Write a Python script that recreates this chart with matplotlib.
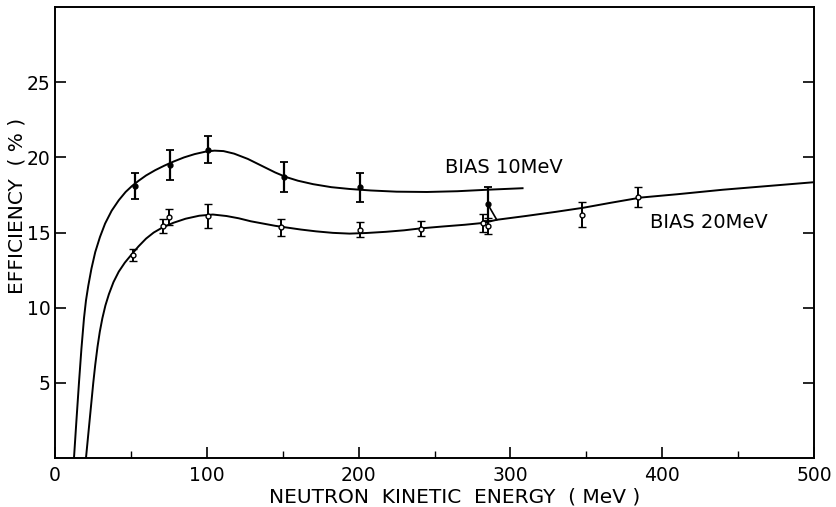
import matplotlib
matplotlib.use("Agg")
import matplotlib.pyplot as plt

# measured points, bias 10 MeV (filled dots)
energy_10 = [52.5, 75.5, 101, 151, 201, 285]
eff_10 = [18.1, 19.5, 20.5, 18.7, 18.0, 16.9]
err_10 = [0.85, 1.0, 0.9, 1.0, 0.95, 1.1]

# measured points, bias 20 MeV (open circles)
energy_20 = [51.5, 71, 75, 101, 149, 201, 241, 282, 285.5, 347, 384]
eff_20 = [13.5, 15.45, 16.05, 16.1, 15.35, 15.2, 15.25, 15.65, 15.45, 16.2, 17.35]
err_20 = [0.4, 0.45, 0.55, 0.8, 0.55, 0.5, 0.5, 0.6, 0.55, 0.85, 0.65]

# hand drawn curves
curve_10_x = [12.5, 14.1, 15.8, 17.4, 19.1, 20.4, 21.9, 24, 26.5, 29.6, 33, 37.3, 42, 46.5,
              50.5, 55, 60, 66, 72, 78, 85, 92, 99, 105, 111, 118, 127, 136, 145, 152,
              160, 170, 182, 194, 208, 225, 245, 265, 285, 308]
curve_10_y = [0, 2.48, 5.03, 7.27, 9.31, 10.48, 11.45, 12.6, 13.7, 14.7, 15.6, 16.45, 17.15,
              17.7, 18.08, 18.44, 18.8, 19.15, 19.45, 19.72, 20.0, 20.22, 20.38, 20.45, 20.42,
              20.25, 19.9, 19.45, 19.0, 18.7, 18.45, 18.22, 18.02, 17.9, 17.8, 17.72, 17.7,
              17.75, 17.85, 17.95]

curve_20_x = [20.4, 21.6, 22.8, 24.0, 25.2, 26.5, 28.0, 29.5, 31.2, 33.2, 35.5, 38.5, 42, 46,
              50.5, 55, 60, 65, 71, 78, 86, 95, 104, 113, 121, 129, 137, 145, 153, 162, 172,
              183, 194, 205, 218, 230, 241, 255, 270, 282, 291, 310, 330, 348, 366, 386,
              410, 440, 470, 500]
curve_20_y = [0, 1.25, 2.5, 3.75, 5.0, 6.2, 7.4, 8.4, 9.3, 10.15, 10.9, 11.7, 12.4, 13.0,
              13.55, 14.08, 14.6, 15.0, 15.35, 15.65, 15.92, 16.12, 16.2, 16.1, 15.95, 15.75,
              15.6, 15.45, 15.33, 15.2, 15.08, 14.98, 14.93, 14.97, 15.05, 15.15, 15.28, 15.4,
              15.52, 15.64, 15.85, 16.1, 16.38, 16.65, 16.98, 17.33, 17.55, 17.85, 18.1, 18.35]

# short leader line from the 285 MeV bias-10 point down to the lower curve
leader_x = [285, 291]
leader_y = [16.9, 15.85]

x_ticks = [0, 100, 200, 300, 400, 500]
x_minor = [50, 150, 250, 350, 450]
y_ticks = [5, 10, 15, 20, 25]

plt.rcParams['font.family'] = ['DejaVu Sans']

fig = plt.figure(figsize=(8.36, 5.07), dpi=100)
ax = fig.add_axes([0.0658, 0.0966, 0.9079, 0.8894])

ax.plot(curve_10_x, curve_10_y, color='black', lw=1.4)
ax.plot(curve_20_x, curve_20_y, color='black', lw=1.4)
ax.plot(leader_x, leader_y, color='black', lw=1.2)

ax.errorbar(energy_10, eff_10, yerr=err_10, fmt='o', ms=3.5, color='black',
            ecolor='black', elinewidth=1.6, capsize=3.2, capthick=1.3)
ax.errorbar(energy_20, eff_20, yerr=err_20, fmt='o', ms=3.5, mfc='white', mec='black',
            mew=1.0, ecolor='black', elinewidth=1.4, capsize=2.8, capthick=1.2)

ax.text(257, 19.35, 'BIAS 10MeV', fontsize=14, va='center', ha='left')
ax.text(392, 15.7, 'BIAS 20MeV', fontsize=14, va='center', ha='left')

ax.set_xlim(0, 500)
ax.set_ylim(0, 30)
ax.set_xticks(x_ticks)
ax.set_xticks(x_minor, minor=True)
ax.set_yticks(y_ticks)
ax.tick_params(axis='both', which='major', direction='in', length=8, width=1.2,
               labelsize=13.5)
ax.tick_params(axis='x', which='major', pad=6)
ax.tick_params(axis='x', which='minor', direction='in', length=5, width=1.0)
ax.tick_params(axis='y', right=True, pad=3)
for s in ax.spines.values():
    s.set_linewidth(1.4)

ax.set_xlabel('NEUTRON  KINETIC  ENERGY  ( MeV )', fontsize=14.5, labelpad=0)
ax.xaxis.set_label_coords(0.527, -0.065)
ax.set_ylabel('EFFICIENCY  ( % )', fontsize=14.5, labelpad=2)
ax.yaxis.set_label_coords(-0.038, 0.56)

fig.savefig('out.png', dpi=100)
